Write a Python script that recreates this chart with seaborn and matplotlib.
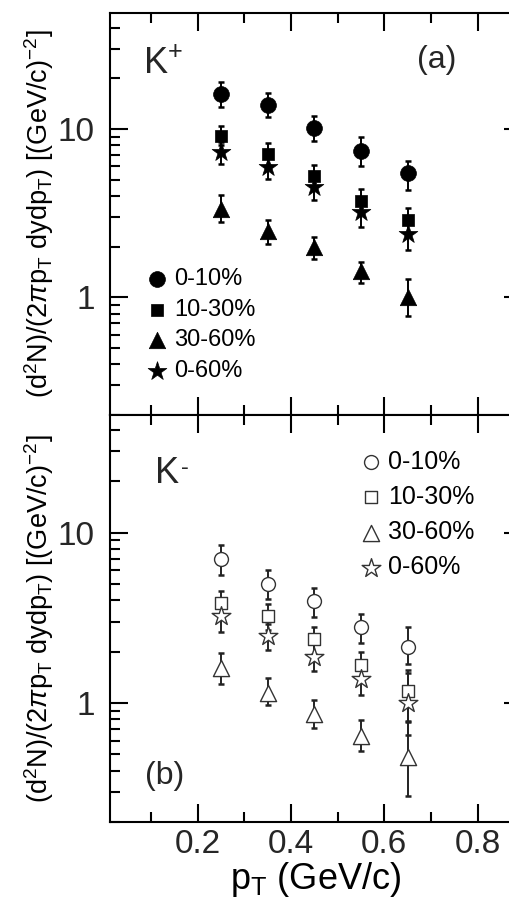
import numpy as np
import pandas as pd
import matplotlib
matplotlib.use("Agg")
import matplotlib.pyplot as plt
import matplotlib.ticker as mticker
import seaborn as sns

# ---------------- data ----------------
pt = [0.25, 0.35, 0.45, 0.55, 0.65]
centralities = ["0-10%", "10-30%", "30-60%", "0-60%"]

# K+ (panel a)
kp_0_10 = [16.1, 13.9, 10.1, 7.4, 5.5]
kp_0_10_lo = [2.6, 2.1, 1.6, 1.4, 1.15]
kp_0_10_hi = [2.9, 2.4, 1.8, 1.6, 1.0]
kp_10_30 = [9.1, 7.1, 5.3, 3.75, 2.9]
kp_10_30_lo = [1.1, 1.0, 0.75, 0.55, 0.45]
kp_10_30_hi = [1.3, 1.2, 0.85, 0.67, 0.5]
kp_30_60 = [3.36, 2.49, 2.0, 1.43, 1.0]
kp_30_60_lo = [0.54, 0.40, 0.30, 0.22, 0.23]
kp_30_60_hi = [0.70, 0.40, 0.30, 0.20, 0.29]
kp_0_60 = [7.3, 5.96, 4.54, 3.23, 2.39]
kp_0_60_lo = [1.1, 0.9, 0.74, 0.6, 0.49]
kp_0_60_hi = [1.1, 0.9, 0.74, 0.6, 0.49]

# K- (panel b)
km_0_10 = [7.0, 5.0, 3.95, 2.79, 2.14]
km_0_10_lo = [1.35, 0.93, 0.76, 0.55, 0.45]
km_0_10_hi = [1.4, 1.0, 0.75, 0.55, 0.66]
km_10_30 = [3.86, 3.22, 2.37, 1.67, 1.17]
km_10_30_lo = [0.6, 0.55, 0.42, 0.31, 0.4]
km_10_30_hi = [0.66, 0.6, 0.42, 0.31, 0.4]
km_30_60 = [1.6, 1.15, 0.86, 0.64, 0.483]
km_30_60_lo = [0.31, 0.18, 0.15, 0.12, 0.2]
km_30_60_hi = [0.36, 0.25, 0.18, 0.15, 0.3]
km_0_60 = [3.22, 2.48, 1.87, 1.38, 1.0]
km_0_60_lo = [0.6, 0.43, 0.34, 0.27, 0.35]
km_0_60_hi = [0.6, 0.43, 0.34, 0.27, 0.5]

x_ticks = [0.2, 0.4, 0.6, 0.8]
x_tick_labels = ["0.2", "0.4", "0.6", "0.8"]
y_ticks = [1, 10]
y_tick_labels = ["1", "10"]

# ---------------- style ----------------
sns.set_theme(style="ticks")
plt.rcParams["font.family"] = ["Liberation Sans", "DejaVu Sans"]
plt.rcParams["mathtext.fontset"] = "custom"
plt.rcParams["mathtext.rm"] = "Liberation Sans"
plt.rcParams["mathtext.it"] = "Liberation Sans:italic"
plt.rcParams["mathtext.sf"] = "Liberation Sans"
plt.rcParams["axes.linewidth"] = 1.5

fig = plt.figure(figsize=(5.10, 9.11), dpi=100)
L, R = 110 / 510, 522 / 510
ax_a = fig.add_axes([L, 1 - 415 / 911, R - L, (415 - 13) / 911])
ax_b = fig.add_axes([L, 1 - 822 / 911, R - L, (822 - 415) / 911], sharex=ax_a)

markers = {"0-10%": "o", "10-30%": "s", "30-60%": "^", "0-60%": "*"}
sizes_a = {"0-10%": 130, "10-30%": 85, "30-60%": 140, "0-60%": 200}
sizes_b = {"0-10%": 100, "10-30%": 80, "30-60%": 135, "0-60%": 200}

def build(vals, los, his):
    rows = []
    for c, v, lo, hi in zip(centralities, vals, los, his):
        for x, y, l, h in zip(pt, v, lo, hi):
            rows.append({"pt": x, "y": y, "lo": l, "hi": h, "cent": c})
    return pd.DataFrame(rows)

df_a = build([kp_0_10, kp_10_30, kp_30_60, kp_0_60],
             [kp_0_10_lo, kp_10_30_lo, kp_30_60_lo, kp_0_60_lo],
             [kp_0_10_hi, kp_10_30_hi, kp_30_60_hi, kp_0_60_hi])
df_b = build([km_0_10, km_10_30, km_30_60, km_0_60],
             [km_0_10_lo, km_10_30_lo, km_30_60_lo, km_0_60_lo],
             [km_0_10_hi, km_10_30_hi, km_30_60_hi, km_0_60_hi])

def draw(ax, df, sizes, filled):
    for c in centralities:
        d = df[df.cent == c]
        ax.errorbar(d.pt, d.y, yerr=[d.lo, d.hi], fmt="none",
                    ecolor="black" if filled else "#222222",
                    elinewidth=1.4, capsize=2.5, capthick=1.8, zorder=2)
    for c in centralities:
        d = df[df.cent == c]
        if filled:
            sns.scatterplot(data=d, x="pt", y="y", marker=markers[c], s=sizes[c],
                            color="black", edgecolor="black", linewidth=0.5,
                            ax=ax, label=c, zorder=3)
        else:
            sns.scatterplot(data=d, x="pt", y="y", marker=markers[c], s=sizes[c],
                            facecolor="white", edgecolor="#333333", linewidth=1.0,
                            ax=ax, label=c, zorder=3)

draw(ax_a, df_a, sizes_a, True)
draw(ax_b, df_b, sizes_b, False)

ylabel = r"(d$^{2}$N)/(2$\pi$p$_{\mathrm{T}}$ dydp$_{\mathrm{T}}$) [(GeV/c)$^{-2}$]"
for ax in (ax_a, ax_b):
    ax.set_yscale("log")
    ax.set_ylim(0.2, 49)
    ax.set_xlim(0.012, 0.895)
    ax.yaxis.set_major_locator(mticker.FixedLocator(y_ticks))
    ax.yaxis.set_major_formatter(mticker.FixedFormatter(y_tick_labels))
    ax.yaxis.set_minor_locator(mticker.LogLocator(base=10, subs=np.arange(2, 10)))
    ax.yaxis.set_minor_formatter(mticker.NullFormatter())
    ax.xaxis.set_major_locator(mticker.FixedLocator(x_ticks))
    ax.xaxis.set_minor_locator(mticker.MultipleLocator(0.1))
    ax.tick_params(which="both", direction="in", top=True, right=True,
                   width=1.5, color="black", labelsize=24)
    ax.tick_params(which="major", length=13, pad=5)
    ax.tick_params(axis="y", which="major", pad=11)
    ax.tick_params(which="minor", length=7)
    for s in ax.spines.values():
        s.set_color("black")
        s.set_linewidth(1.5)
    ax.set_ylabel(ylabel, fontsize=19.5, labelpad=1, color="black")

ax_a.tick_params(axis="x", labelbottom=False)
ax_a.set_xlabel("")
ax_b.xaxis.set_major_formatter(mticker.FixedFormatter(x_tick_labels))
ax_b.set_xlabel(r"p$_{\mathrm{T}}$ (GeV/c)", fontsize=26, labelpad=0, color="black")

ax_a.text(0.08, 0.915, r"K$^{+}$", transform=ax_a.transAxes, fontsize=26,
          va="top", ha="left")
ax_a.text(0.745, 0.92, "(a)", transform=ax_a.transAxes, fontsize=23,
          va="top", ha="left")
# K- : superscript drawn as a short dash
tk = ax_b.text(0.11, 0.9, "K", transform=ax_b.transAxes, fontsize=26,
               va="top", ha="left")
ax_b.annotate("-", xy=(1, 1), xycoords=tk, xytext=(1, -1),
              textcoords="offset points", fontsize=17, va="top", ha="left")
ax_b.text(0.085, 0.15, "(b)", transform=ax_b.transAxes, fontsize=23,
          va="top", ha="left")

leg_a = ax_a.legend(loc="upper left", bbox_to_anchor=(0.075, 0.365), frameon=False,
                    fontsize=17, handletextpad=0.0, labelspacing=0.36,
                    borderpad=0, borderaxespad=0, handlelength=1.4)
leg_b = ax_b.legend(loc="upper left", bbox_to_anchor=(0.59, 0.915), frameon=False,
                    fontsize=18, handletextpad=0.0, labelspacing=0.45,
                    borderpad=0, borderaxespad=0, handlelength=1.4)
for t in leg_a.get_texts() + leg_b.get_texts():
    t.set_color("black")

fig.savefig("out.png", dpi=100)
